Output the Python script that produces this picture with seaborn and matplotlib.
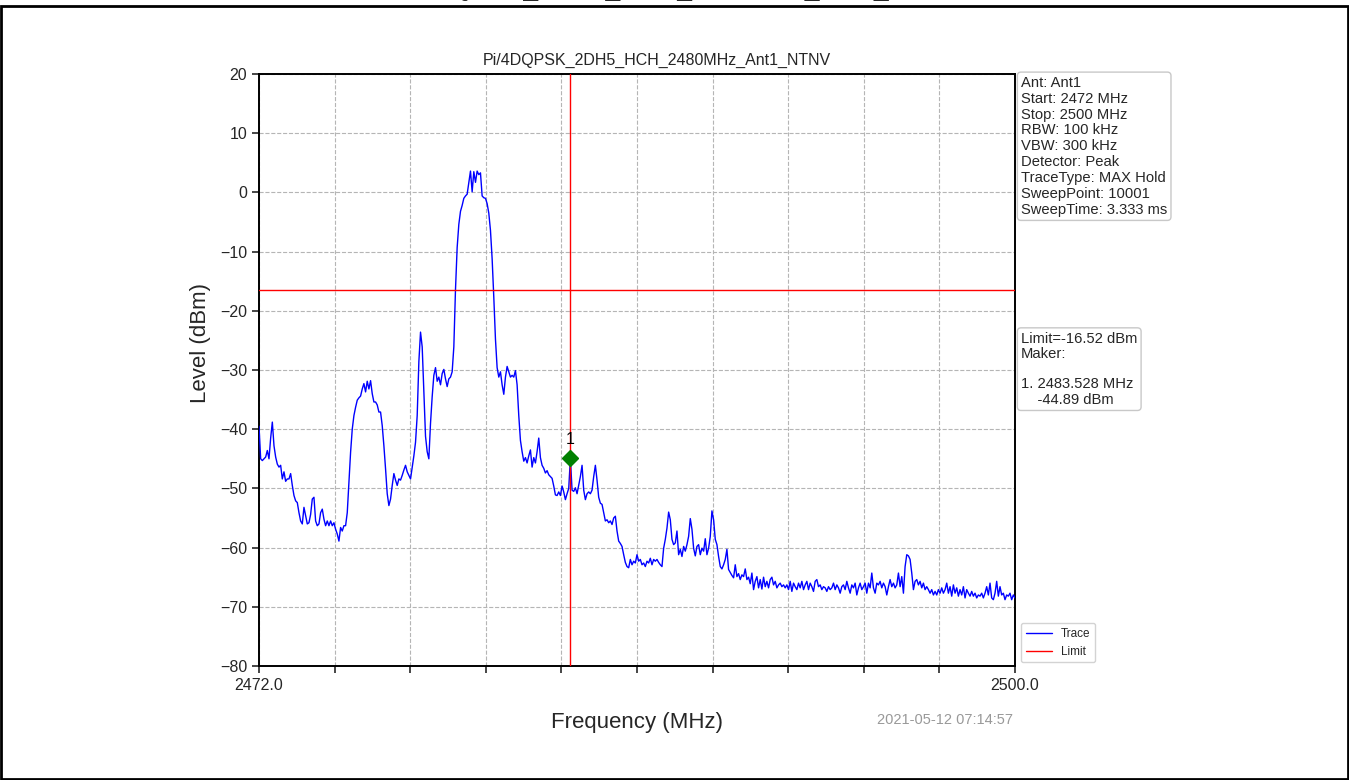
import numpy as np
import pandas as pd
import matplotlib
matplotlib.use("Agg")
import matplotlib.pyplot as plt
from matplotlib.patches import Rectangle
import seaborn as sns

# Sweep settings
START_MHZ = 2472.0
STOP_MHZ = 2500.0
LIMIT_DBM = -16.52
MARKER_MHZ = 2483.528
MARKER_DBM = -44.89

TITLE = "Pi/4DQPSK_2DH5_HCH_2480MHz_Ant1_NTNV"
TIMESTAMP = "2021-05-12 07:14:57"

SETTINGS = ["Ant: Ant1", "Start: 2472 MHz", "Stop: 2500 MHz", "RBW: 100 kHz",
            "VBW: 300 kHz", "Detector: Peak", "TraceType: MAX Hold",
            "SweepPoint: 10001", "SweepTime: 3.333 ms"]

Y_TICKS = [-80, -70, -60, -50, -40, -30, -20, -10, 0, 10, 20]
X_TICK_LABELS = ["2472.0", "", "", "", "", "", "", "", "", "", "2500.0"]

# Max-hold trace levels (dBm) across the linear sweep from START to STOP
levels_low = [
    -39.5, -45.0, -45.3, -45.0, -44.7, -43.6, -45.0, -41.5, -38.8, -42.8,
    -44.7, -45.9, -46.4, -46.1, -48.4, -47.2, -48.8, -48.4, -48.4, -47.5,
    -49.5, -51.2, -52.1, -52.4, -54.1, -55.5, -56.0, -53.2, -54.6, -56.0,
    -55.8, -54.4, -51.8, -51.5, -55.5, -56.3, -56.0, -54.1, -53.5, -55.2,
    -56.3, -55.5, -56.3, -55.5, -56.3, -55.8, -56.9, -57.7, -58.9, -56.6,
    -57.2, -56.3, -56.3, -54.1, -49.0, -43.9, -40.0, -37.7, -36.3, -35.1,
    -34.7, -34.4, -33.2, -32.3, -33.7, -31.9, -33.2, -31.8, -34.0, -35.4,
    -35.4, -35.9, -37.1, -37.1, -39.4, -42.8, -46.7, -50.9, -52.9, -51.8,
    -49.5, -47.5, -48.6, -49.5, -48.4, -48.6, -47.8, -46.9, -46.1, -47.2,
    -47.8, -48.4, -46.4, -44.5, -42.2, -37.7,
]
levels_channel = [
    -28.6, -23.6, -26.1, -33.8, -41.2, -43.8, -45.0, -39.0, -34.5, -30.9,
    -29.6, -31.9, -31.2, -32.5, -30.6, -29.9, -31.5, -32.8, -31.5, -31.2,
    -30.3, -26.1, -16.4, -9.3, -5.4, -3.2, -2.2, -1.0, -0.6, -0.3,
    1.7, 3.6, 0.1, 3.5, 1.7, 3.6, 3.0, 3.3, -0.6, -0.9,
    -1.0, -1.9, -3.5, -6.4, -11.2, -17.7, -24.8, -29.6, -31.2, -30.3,
    -32.5, -34.1, -31.2, -29.4, -30.3, -31.2, -30.9, -31.2, -30.1, -32.5,
    -37.7, -41.9, -43.8, -45.4, -44.8, -45.7, -44.5, -43.5, -46.4, -44.8,
    -45.7, -43.8, -41.5, -44.8, -46.1, -46.6, -47.4, -47.0, -47.7, -48.0,
    -48.3, -49.6, -51.1, -51.2, -50.6, -51.2, -49.6, -50.6, -51.9, -50.9,
    -50.0, -44.89, -50.3, -50.5, -49.9, -50.9, -49.4, -48.0, -46.1, -50.3,
    -51.9, -50.9, -50.6, -50.9, -50.3, -48.0, -46.1, -48.6, -51.5, -52.5,
]
levels_high = [
    -52.7, -54.1, -55.5, -55.3, -55.8, -55.5, -56.1, -55.0, -54.7, -57.2,
    -58.9, -59.3, -59.8, -61.2, -62.5, -63.2, -63.4, -62.0, -62.9, -62.3,
    -62.6, -61.2, -62.3, -62.0, -62.9, -62.6, -63.2, -62.3, -62.6, -61.8,
    -62.9, -62.0, -62.3, -62.0, -62.5, -62.9, -63.2, -60.1, -58.6, -56.7,
    -54.0, -55.3, -58.6, -59.5, -59.2, -57.2, -61.2, -60.3, -61.5, -59.8,
    -60.6, -59.5, -58.1, -55.1, -56.9, -60.1, -61.4, -59.8, -59.5, -61.2,
    -60.1, -60.6, -58.5, -61.2, -60.1, -58.1, -53.8, -55.3, -58.6, -59.5,
    -61.5, -63.2, -63.6, -62.9, -62.0, -60.3, -63.7, -64.2, -64.7, -65.1,
    -62.9, -64.9, -64.4, -65.4, -64.6, -64.9, -63.6, -65.4, -65.0, -66.1,
    -64.3, -67.1, -65.7, -64.9, -66.8, -65.4, -67.0, -65.0, -66.6, -65.7,
    -66.8, -65.4, -65.0, -66.3, -65.7, -66.8, -66.3, -66.0, -66.6, -66.3,
    -66.8, -66.3, -67.1, -65.7, -67.4, -66.0, -66.6, -67.1, -66.0, -66.8,
    -65.7, -67.1, -66.3, -65.7, -67.1, -66.0, -66.6, -67.4, -65.7, -65.4,
    -66.6, -66.3, -67.1, -66.6, -66.8, -67.4, -66.6, -67.1, -66.8, -66.0,
    -67.1, -66.3, -66.8, -67.7, -66.6, -66.3, -67.1, -65.7, -66.8, -67.7,
    -66.3, -66.8, -66.0, -68.0, -66.8, -66.0, -67.1, -66.6, -66.0, -67.7,
    -66.0, -66.8, -64.3, -66.8, -67.7, -66.0, -66.3, -65.7, -66.8, -66.0,
    -66.6, -68.0, -66.6, -65.4, -66.6, -66.0, -66.8, -66.3, -64.3, -66.6,
    -64.9, -67.7, -63.2, -61.2, -61.4, -62.0, -64.3, -67.1, -65.7, -65.4,
    -66.3, -65.7, -66.8, -66.0, -67.1, -66.6, -67.1, -67.7, -67.1, -68.0,
    -67.4, -68.0, -67.1, -67.7, -66.8, -67.7, -67.1, -66.0, -67.7, -66.6,
    -68.2, -66.3, -67.7, -66.8, -68.2, -67.1, -68.0, -66.6, -68.5, -67.1,
    -67.7, -68.2, -67.4, -68.2, -67.7, -68.5, -68.0, -68.2, -67.7, -68.5,
    -67.7, -66.6, -68.0, -66.0, -68.5, -68.8, -67.7, -65.7, -68.2, -66.6,
    -68.0, -67.7, -68.8, -68.0, -68.2, -67.7, -68.8, -68.0, -68.5,
]

levels = levels_low + levels_channel + levels_high
freqs = np.linspace(START_MHZ, STOP_MHZ, len(levels))
trace = pd.DataFrame({"Frequency (MHz)": freqs, "Level (dBm)": levels})

sns.set_style("ticks")
plt.rcParams["font.family"] = ["Liberation Sans", "DejaVu Sans"]
plt.rcParams["axes.unicode_minus"] = True

W, H = 1349, 780
fig = plt.figure(figsize=(W / 100, H / 100), dpi=100)
ax = fig.add_axes([259 / W, 1 - 666 / H, 756 / W, 592 / H])

sns.lineplot(data=trace, x="Frequency (MHz)", y="Level (dBm)", ax=ax,
             color="blue", linewidth=1.0, label="Trace", zorder=3)
ax.axhline(LIMIT_DBM, color="red", linewidth=1.0, label="Limit", zorder=4)
ax.axvline(MARKER_MHZ, color="red", linewidth=1.0, zorder=4)
ax.plot([MARKER_MHZ], [MARKER_DBM], marker="D", color="green", markersize=8,
        linestyle="none", zorder=5)
ax.annotate("1", (MARKER_MHZ, MARKER_DBM), xytext=(0, 8),
            textcoords="offset points", ha="center", va="bottom",
            fontsize=11.5, color="black", zorder=6)

ax.set_xlim(START_MHZ, STOP_MHZ)
ax.set_ylim(Y_TICKS[0], Y_TICKS[-1])
ax.set_yticks(Y_TICKS)
ax.set_xticks(np.linspace(START_MHZ, STOP_MHZ, len(X_TICK_LABELS)))
ax.set_xticklabels(X_TICK_LABELS)
ax.tick_params(axis="both", labelsize=11.5, length=5, width=1.2, direction="out")
ax.grid(True, linestyle="--", color="#b5b5b5", linewidth=0.8)
for side in ["left", "right", "top", "bottom"]:
    ax.spines[side].set_visible(True)
    ax.spines[side].set_color("black")
    ax.spines[side].set_linewidth(1.4)

ax.set_xlabel("Frequency (MHz)", fontsize=16, labelpad=14)
ax.set_ylabel("Level (dBm)", fontsize=16)
ax.yaxis.set_label_coords(-0.063, 0.546)

# Chart title sits a little right of the axes centre
fig.text(657 / W, 1 - 60 / H, TITLE, ha="center", va="center", fontsize=11.5)

box = dict(boxstyle="round,pad=0.25", facecolor="white", edgecolor="#c8c8c8",
           linewidth=1.0)
ax.text(1.008, 0.997, "\n".join(SETTINGS), transform=ax.transAxes,
        ha="left", va="top", fontsize=10.6, bbox=box, linespacing=1.17)
marker_info = (f"Limit={LIMIT_DBM:.2f} dBm\nMaker:\n\n"
               f"1. {MARKER_MHZ:.3f} MHz\n    {MARKER_DBM:.2f} dBm")
ax.text(1.008, 0.565, marker_info, transform=ax.transAxes,
        ha="left", va="top", fontsize=10.6, bbox=box, linespacing=1.12)

leg = ax.legend(loc="lower left", bbox_to_anchor=(1.003, 0.0), fontsize=8.5,
                frameon=True, handlelength=2.2, borderaxespad=0.3)
leg.get_frame().set_edgecolor("#c8c8c8")

fig.text(1013 / W, 1 - 720 / H, TIMESTAMP, ha="right", va="center",
         fontsize=10.5, color="#999999")

# Page header running off the top edge, and the page frame
fig.text(0.5, 1 + 4.0 / H, TITLE, ha="center", va="baseline", fontsize=19)
fig.patches.append(Rectangle((0.5 / W, 1.5 / H), (W - 2) / W, (H - 7.5) / H,
                             transform=fig.transFigure, fill=False,
                             edgecolor="black", linewidth=2.0))

fig.savefig("out.png", dpi=100)
